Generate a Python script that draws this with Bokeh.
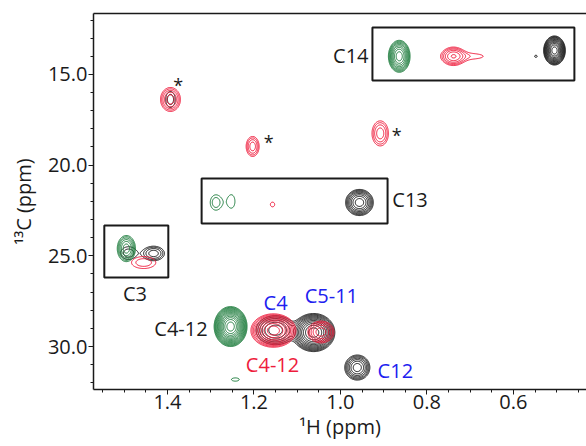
import numpy as np
from bokeh.plotting import figure
from bokeh.models import Range1d, FixedTicker, PrintfTickFormatter, LinearAxis, ColumnDataSource
from bokeh.core.properties import value
from bokeh.embed import file_html
from bokeh.resources import INLINE

# ---------------- data (ppm) ----------------
x_ticks = [0.6, 0.8, 1.0, 1.2, 1.4]
x_minor = [round(0.45 + 0.05 * i, 2) for i in range(23)]
y_ticks = [15, 20, 25, 30]
y_minor = list(range(12, 33))

# green spectrum peaks: 1H shift, 13C shift, half-width 1H, half-width 13C, contour levels
green_x = [0.864, 1.288, 1.252, 1.495, 1.254, 1.243]
green_y = [14.0, 22.06, 22.0, 24.6, 28.9, 31.82]
green_wx = [0.025, 0.013, 0.008, 0.021, 0.038, 0.009]
green_wy = [0.88, 0.42, 0.36, 0.72, 1.1, 0.09]
green_n = [9, 2, 1, 6, 14, 1]

# red spectrum peaks
red_x = [1.393, 1.203, 0.908, 0.739, 0.700, 1.157, 1.455, 1.155, 1.045]
red_y = [16.38, 18.97, 18.25, 14.0, 14.0, 22.17, 25.37, 29.12, 29.2]
red_wx = [0.023, 0.015, 0.019, 0.026, 0.030, 0.005, 0.028, 0.052, 0.030]
red_wy = [0.66, 0.55, 0.69, 0.50, 0.15, 0.13, 0.33, 0.92, 0.60]
red_n = [5, 4, 4, 5, 1, 1, 2, 10, 5]

# black spectrum peaks
black_x = [1.393, 0.505, 0.956, 1.490, 1.432, 1.150, 1.062, 0.961, 0.548]
black_y = [16.38, 13.68, 22.06, 24.85, 24.87, 29.1, 29.23, 31.16, 14.0]
black_wx = [0.011, 0.025, 0.032, 0.018, 0.025, 0.045, 0.049, 0.029, 0.003]
black_wy = [0.44, 0.80, 0.72, 0.35, 0.40, 0.80, 1.05, 0.69, 0.06]
black_n = [2, 12, 8, 2, 4, 6, 12, 7, 1]

# boxed regions
box_left = [0.926, 1.321, 1.546]
box_right = [0.459, 0.891, 1.398]
box_top = [12.41, 20.74, 23.33]
box_bottom = [15.33, 23.22, 26.2]

# labels
lab_text = ["C14", "C13", "C3", "C4-12", "C4", "C5-11", "C4-12", "C12"]
lab_x = [0.935, 0.880, 1.475, 1.307, 1.150, 1.021, 1.157, 0.914]
lab_y = [13.95, 21.92, 27.05, 28.98, 27.55, 27.19, 31.0, 31.33]
lab_color = ["#1a1a1a", "#1a1a1a", "#1a1a1a", "#1a1a1a", "#2020f0", "#2020f0", "#ee1c3c", "#2020f0"]
lab_align = ["right", "left", "center", "right", "center", "center", "center", "left"]

star_x = [1.375, 1.166, 0.870]
star_y = [15.6, 18.75, 18.36]

GREEN = "#1f7d3e"
RED = "#ee1c3c"
BLACK = "#1a1a1a"
FONT = "Open Sans"
X_START, X_END = 1.571, 0.431
Y_START, Y_END = 32.37, 11.64

# ---------------- contour surfaces ----------------
RATIO = 1.4
levels = list(RATIO ** np.arange(0, 18))
xg = np.linspace(0.42, 1.58, 660)
yg = np.linspace(11.4, 32.6, 620)
X, Y = np.meshgrid(xg, yg)


def spectrum(px, py, wx, wy, n):
    Z = np.zeros_like(X)
    for cx, cy, ax, ay, k in zip(px, py, wx, wy, n):
        amp = RATIO ** (k - 0.3)
        s = np.sqrt(2 * np.log(amp))
        Z += amp * np.exp(-0.5 * (((X - cx) * s / ax) ** 2 + ((Y - cy) * s / ay) ** 2))
    return Z


p = figure(width=586, height=446, output_backend="svg", toolbar_location=None,
           x_range=Range1d(X_START, X_END), y_range=Range1d(Y_START, Y_END),
           min_border_left=93, min_border_top=13, min_border_right=0, min_border_bottom=57)
p.grid.visible = False
p.outline_line_color = None
p.background_fill_color = "white"
p.border_fill_color = "white"

p.contour(X, Y, spectrum(black_x, black_y, black_wx, black_wy, black_n), levels=levels,
          line_color=BLACK, line_width=1)
p.contour(X, Y, spectrum(red_x, red_y, red_wx, red_wy, red_n), levels=levels,
          line_color=RED, line_width=1)
p.contour(X, Y, spectrum(green_x, green_y, green_wx, green_wy, green_n), levels=levels,
          line_color=GREEN, line_width=1)

p.quad(left=box_left, right=box_right, top=box_top, bottom=box_bottom,
       fill_color=None, line_color=BLACK, line_width=2)

src = ColumnDataSource(dict(x=lab_x, y=lab_y, t=lab_text, c=lab_color, a=lab_align))
p.text(x="x", y="y", text="t", text_color="c", text_align="a", text_baseline="middle",
       text_font=value(FONT), text_font_size="20px", source=src)
p.text(x=star_x, y=star_y, text=["*"] * len(star_x), text_color=BLACK, text_align="center",
       text_baseline="middle", text_font=value(FONT), text_font_size="18px")

# axes
xa = p.xaxis[0]
xa.ticker = FixedTicker(ticks=x_ticks, minor_ticks=x_minor)
xa.formatter = PrintfTickFormatter(format="%.1f")
xa.axis_label = "¹H (ppm)"
ya = p.yaxis[0]
ya.ticker = FixedTicker(ticks=y_ticks, minor_ticks=y_minor)
ya.formatter = PrintfTickFormatter(format="%.1f")
ya.axis_label = "¹³C (ppm)"
for ax in (xa, ya):
    ax.axis_line_width = 1.5
    ax.axis_line_color = BLACK
    ax.major_tick_in = 0
    ax.major_tick_out = 5
    ax.minor_tick_in = 0
    ax.minor_tick_out = 3
    ax.major_tick_line_color = BLACK
    ax.minor_tick_line_color = BLACK
    ax.major_label_text_font = FONT
    ax.major_label_text_font_size = "20px"
    ax.major_label_text_color = BLACK
    ax.axis_label_text_font = FONT
    ax.axis_label_text_font_size = "20px"
    ax.axis_label_text_font_style = "normal"
    ax.axis_label_text_color = BLACK
xa.major_label_standoff = 0
xa.axis_label_standoff = 1
ya.major_label_standoff = 1
ya.axis_label_standoff = 8

top = LinearAxis(ticker=FixedTicker(ticks=[]), axis_line_width=1.5, axis_line_color=BLACK,
                 major_tick_line_color=None, minor_tick_line_color=None,
                 major_label_text_font_size="0px")
p.add_layout(top, "above")

open("out.html", "w").write(file_html(p, INLINE))
